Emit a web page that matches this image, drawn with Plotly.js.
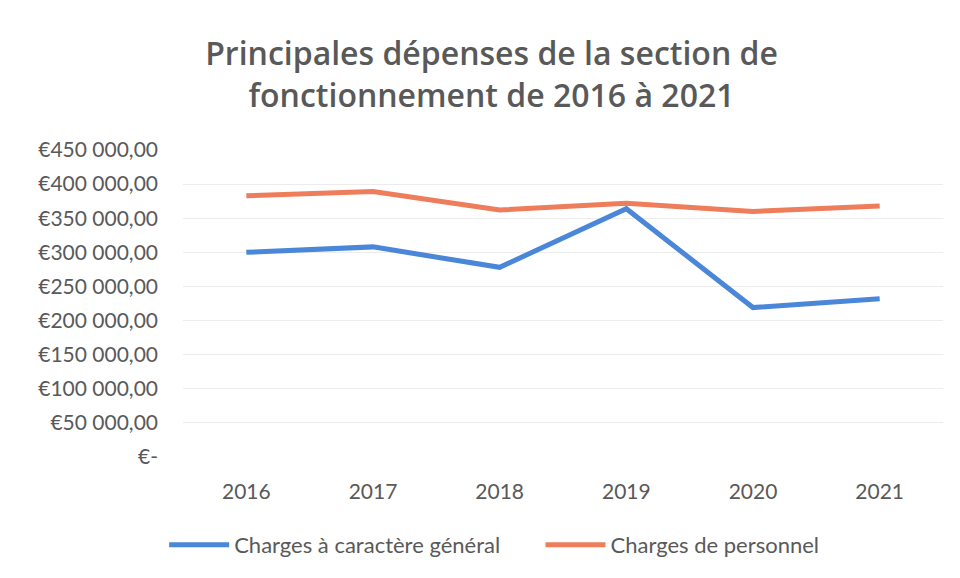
<!DOCTYPE html>
<html>
<head>
<meta charset="utf-8">
<script src="https://cdn.plot.ly/plotly-3.0.1.min.js"></script>
<style>html,body{margin:0;padding:0;background:#fff;}#chart{width:960px;height:578px;}</style>
</head>
<body>
<div id="chart"></div>
<script>
const years = ['2016', '2017', '2018', '2019', '2020', '2021'];
const chargesGenerales = [300000, 308000, 278000, 364000, 219000, 232000];
const chargesPersonnel = [383000, 389000, 362000, 372000, 360000, 368000];
const tickValues = [0, 50000, 100000, 150000, 200000, 250000, 300000, 350000, 400000, 450000];
const tickLabels = ['€-', '€50 000,00', '€100 000,00', '€150 000,00', '€200 000,00', '€250 000,00', '€300 000,00', '€350 000,00', '€400 000,00', '€450 000,00'];

const fontFam = 'Lato, "Open Sans", sans-serif';
const grey = '#595959';

const traces = [
  {x: years, y: chargesGenerales, type: 'scatter', mode: 'lines', name: 'Charges à caractère général',
   line: {color: '#4a87d8', width: 5}, legend: 'legend'},
  {x: years, y: chargesPersonnel, type: 'scatter', mode: 'lines', name: 'Charges de personnel',
   line: {color: '#ee7d5c', width: 5}, legend: 'legend2'}
];

const legendCommon = {orientation: 'h', xref: 'container', yref: 'container', xanchor: 'left',
  y: 0.057, yanchor: 'middle', font: {family: fontFam, size: 22, color: grey}, itemwidth: 60, bgcolor: 'rgba(0,0,0,0)'};

const layout = {
  width: 960, height: 578,
  paper_bgcolor: '#fff', plot_bgcolor: '#fff',
  margin: {l: 183, r: 17, t: 150, b: 121},
  title: {text: 'Principales dépenses de la section de<br>fonctionnement de 2016 à 2021',
          font: {family: '"Open Sans", sans-serif', size: 32, color: grey, weight: 600},
          x: 0.512, xanchor: 'center', xref: 'container', yref: 'container', y: 0.887, yanchor: 'middle'},
  xaxis: {type: 'category', range: [-0.5, 5.5], tickfont: {family: fontFam, size: 21, color: grey},
          showgrid: false, zeroline: false, showline: false, ticks: '', ticklabelstandoff: 20},
  yaxis: {range: [0, 450000], tickvals: tickValues, ticktext: tickLabels,
          tickfont: {family: fontFam, size: 21, color: grey},
          showgrid: true, gridcolor: '#ececec', gridwidth: 1, zeroline: false, showline: false,
          ticks: '', ticklabelstandoff: 24},
  showlegend: true,
  legend: Object.assign({}, legendCommon, {x: 0.171}),
  legend2: Object.assign({}, legendCommon, {x: 0.563})
};

Plotly.newPlot('chart', traces, layout, {displayModeBar: false, staticPlot: true});
</script>
</body>
</html>
